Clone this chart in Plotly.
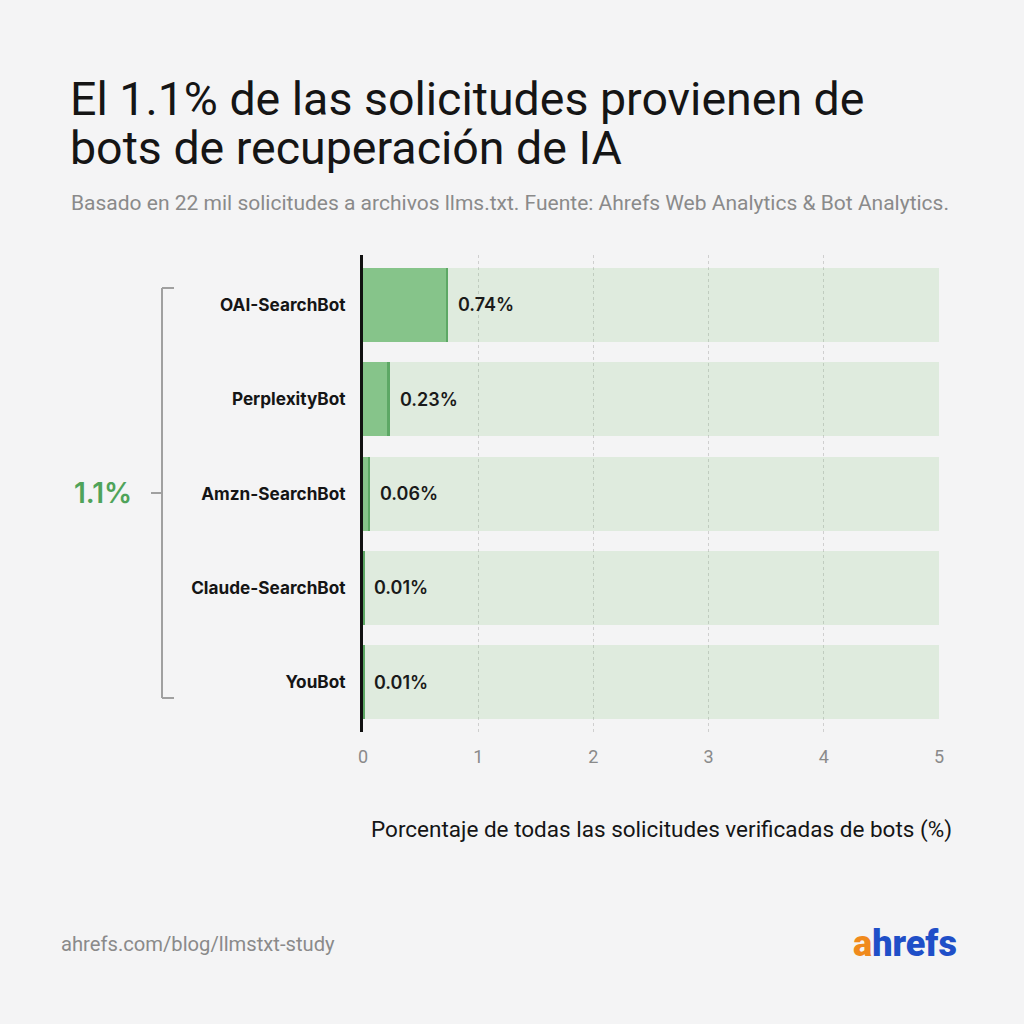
import plotly.graph_objects as go

bots = ["OAI-SearchBot", "PerplexityBot", "Amzn-SearchBot", "Claude-SearchBot", "YouBot"]
shares = [0.74, 0.23, 0.06, 0.01, 0.01]
value_labels = ["0.74%", "0.23%", "0.06%", "0.01%", "0.01%"]
x_ticks = [0, 1, 2, 3, 4, 5]
x_max = 5
total_label = "1.1%"

W, H = 1024, 1024
L, R, T, B = 363, 939, 255, 732

def px(x):
    return (x - L) / (R - L)

def py(y):
    return (B - y) / (B - T)

BG = "#f4f4f5"
LIGHT = "rgba(120,190,115,0.17)"
DARK = "#86c48a"
EDGE = "#5da865"

fig = go.Figure()
fig.add_trace(go.Bar(y=bots, x=[x_max] * len(bots), orientation="h",
                     marker=dict(color=LIGHT, line=dict(width=0)), width=0.785,
                     hoverinfo="skip"))
fig.add_trace(go.Bar(y=bots, x=shares, orientation="h",
                     marker=dict(color=DARK, line=dict(width=0)), width=0.785))
edge_w = 0.018
fig.add_trace(go.Bar(y=bots, x=[edge_w] * len(bots), base=[max(s - edge_w, 0) for s in shares],
                     orientation="h", marker=dict(color=EDGE, line=dict(width=0)), width=0.785))

for b, s, t in zip(bots, shares, value_labels):
    fig.add_annotation(x=s, y=b, xref="x", yref="y", text=t, showarrow=False,
                       xanchor="left", xshift=8,
                       font=dict(family="Inter", size=18, color="#1a1a1a", weight=600))

# titles
fig.add_annotation(x=px(68), y=py(99), xref="paper", yref="paper", showarrow=False,
                   xanchor="left", yanchor="middle", align="left",
                   text="El 1.1% de las solicitudes provienen de",
                   font=dict(family="Roboto", size=46.5, color="#151515"))
fig.add_annotation(x=px(68), y=py(148), xref="paper", yref="paper", showarrow=False,
                   xanchor="left", yanchor="middle", align="left",
                   text="bots de recuperación de IA",
                   font=dict(family="Roboto", size=46.5, color="#151515"))
fig.add_annotation(x=px(69), y=py(203), xref="paper", yref="paper", showarrow=False,
                   xanchor="left", yanchor="middle",
                   text="Basado en 22 mil solicitudes a archivos llms.txt. Fuente: Ahrefs Web Analytics & Bot Analytics.",
                   font=dict(family="Roboto", size=21, color="#8a8a8a"))

# x axis title
fig.add_annotation(x=px(954), y=py(829), xref="paper", yref="paper", showarrow=False,
                   xanchor="right", yanchor="middle",
                   text="Porcentaje de todas las solicitudes verificadas de bots (%)",
                   font=dict(family="Roboto", size=22.5, color="#151515"))

# bracket
line_c = "#a0a0a0"
fig.add_shape(type="line", xref="paper", yref="paper", x0=px(162), x1=px(162), y0=py(288), y1=py(698),
              line=dict(color=line_c, width=2))
fig.add_shape(type="line", xref="paper", yref="paper", x0=px(162), x1=px(174), y0=py(288), y1=py(288),
              line=dict(color=line_c, width=2))
fig.add_shape(type="line", xref="paper", yref="paper", x0=px(162), x1=px(174), y0=py(698), y1=py(698),
              line=dict(color=line_c, width=2))
fig.add_shape(type="line", xref="paper", yref="paper", x0=px(151), x1=px(162), y0=py(493), y1=py(493),
              line=dict(color=line_c, width=2))
fig.add_annotation(x=px(103), y=py(493), xref="paper", yref="paper", showarrow=False,
                   xanchor="center", yanchor="middle", text=total_label,
                   font=dict(family="Inter", size=28, color="#4fa35a", weight=600))

# footer
fig.add_annotation(x=px(59), y=py(944), xref="paper", yref="paper", showarrow=False,
                   xanchor="left", yanchor="middle", text="ahrefs.com/blog/llmstxt-study",
                   font=dict(family="Roboto", size=20.2, color="#8a8a8a"))
fig.add_annotation(x=px(959), y=py(944), xref="paper", yref="paper", showarrow=False,
                   xanchor="right", yanchor="middle",
                   text="<span style='color:#f08a1c'>a</span><span style='color:#1f4fc8'>hrefs</span>",
                   font=dict(family="Roboto", size=36, weight=900))

fig.update_layout(
    width=W, height=H,
    margin=dict(l=L, r=W - R, t=T, b=H - B, pad=0),
    paper_bgcolor=BG, plot_bgcolor=BG,
    barmode="overlay", showlegend=False, bargap=0,
    xaxis=dict(range=[0, x_max], tickvals=x_ticks, ticktext=[str(v) for v in x_ticks],
               showgrid=True, gridcolor="#cfcfcf", griddash="dot", gridwidth=1,
               zeroline=False, showline=False, ticks="",
               tickfont=dict(family="Roboto", size=18, color="#8a8a8a"),
               ticklabelstandoff=12, fixedrange=True),
    yaxis=dict(autorange=False, range=[4.53, -0.53], categoryorder="array", categoryarray=bots,
               showgrid=False, zeroline=False, showline=True, linecolor="#111111", linewidth=3,
               ticks="", ticklabelstandoff=11,
               tickfont=dict(family="Inter", size=17.2, color="#151515", weight=700)),
)

fig.write_html("out.html")
